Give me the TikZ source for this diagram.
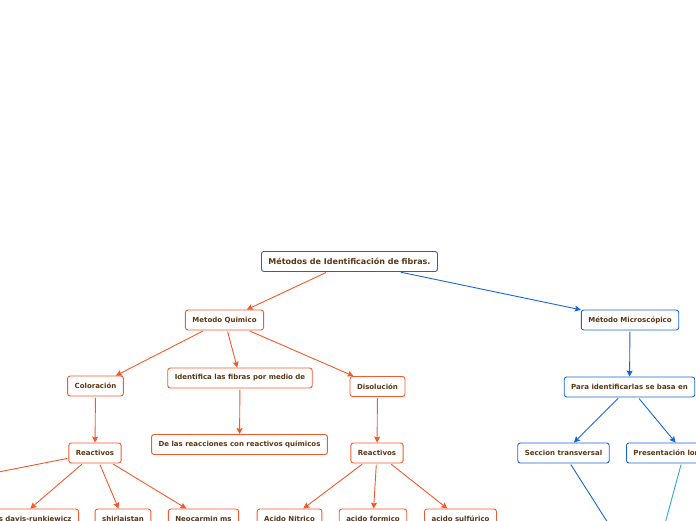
\documentclass[tikz,border=0pt]{standalone}
\usepackage{fontspec}
\setmainfont{DejaVu Sans}
\usetikzlibrary{arrows.meta}
\definecolor{qorange}{HTML}{F4592B}
\definecolor{mblue}{HTML}{1766D6}
\definecolor{lblue}{HTML}{2AA6E6}
\definecolor{txtbrown}{HTML}{5A3614}

\begin{document}
\begin{tikzpicture}[x=1pt,y=-1pt,line cap=round,line join=round,
  box/.style={draw,fill=white,rounded corners=2.5pt,line width=0.9pt,minimum height=20pt,
    inner xsep=7pt,font=\fontsize{7}{8}\selectfont\bfseries,text=txtbrown},
  qbox/.style={box,draw=qorange},
  mbox/.style={box,draw=mblue},
  qarr/.style={draw=qorange,line width=0.9pt,shorten <=1.5pt,-{Stealth[length=6pt,width=6pt,inset=1pt]}},
  marr/.style={qarr,draw=mblue}]
  \useasboundingbox (0,0) rectangle (696,520);
  \clip (0,0) rectangle (696,520);
  % root
  \node[mbox,font=\fontsize{8}{9}\selectfont\bfseries] (raiz) at (349.5,261.5) {Métodos de Identificación de fibras.};
  % metodo quimico
  \node[qbox] (quim) at (224.5,320) {Metodo Quimico};
  \node[qbox] (color) at (95.5,386) {Coloración};
  \node[qbox] (ident) at (240,378) {Identifica las fibras por medio de};
  \node[qbox] (disol) at (377.5,386.5) {Disolución};
  \node[qbox] (reacc) at (239.5,444.5) {De las reacciones con reactivos químicos};
  \node[qbox] (reac1) at (95,453) {Reactivos};
  \node[qbox] (reac2) at (377,453) {Reactivos};
  \node[qbox,anchor=east] (davis) at (79,519) {Reactivos davis-runkiewicz};
  \node[qbox] (shirl) at (123,519) {shirlaistan};
  \node[qbox] (neoc) at (203.5,519) {Neocarmin ms};
  \node[qbox] (nitr) at (289.5,519) {Acido Nitrico};
  \node[qbox] (form) at (373,519) {acido formico};
  \node[qbox] (sulf) at (460.5,519) {acido sulfúrico};
  \coordinate (otro) at (-240,519);
  % metodo microscopico
  \node[mbox] (micro) at (630,320) {Método Microscópico};
  \node[mbox] (basa) at (629.5,387) {Para identificarlas se basa en};
  \node[mbox] (secc) at (563.5,453) {Seccion transversal};
  \node[mbox,anchor=west] (pres) at (626,453) {Presentación longitudinal};
  \coordinate (abajo) at (648,586);

  \draw[qarr] (raiz) -- (quim);
  \draw[marr] (raiz) -- (micro);
  \draw[qarr] (quim) -- (color);
  \draw[qarr] (quim) -- (ident);
  \draw[qarr] (quim) -- (disol);
  \draw[qarr] (ident) -- (reacc);
  \draw[qarr] (color) -- (reac1);
  \draw[qarr] (disol) -- (reac2);
  \draw[qarr] (reac1) -- (otro);
  \draw[qarr] (reac1) -- (davis);
  \draw[qarr] (reac1) -- (shirl);
  \draw[qarr] (reac1) -- (neoc);
  \draw[qarr] (reac2) -- (nitr);
  \draw[qarr] (reac2) -- (form);
  \draw[qarr] (reac2) -- (sulf);
  \draw[marr] (micro) -- (basa);
  \draw[marr] (basa) -- (secc);
  \draw[marr] (basa) -- (pres);
  \draw[marr] (secc) -- (abajo);
  \draw[marr,draw=lblue] (pres) -- (abajo);
\end{tikzpicture}
\end{document}
